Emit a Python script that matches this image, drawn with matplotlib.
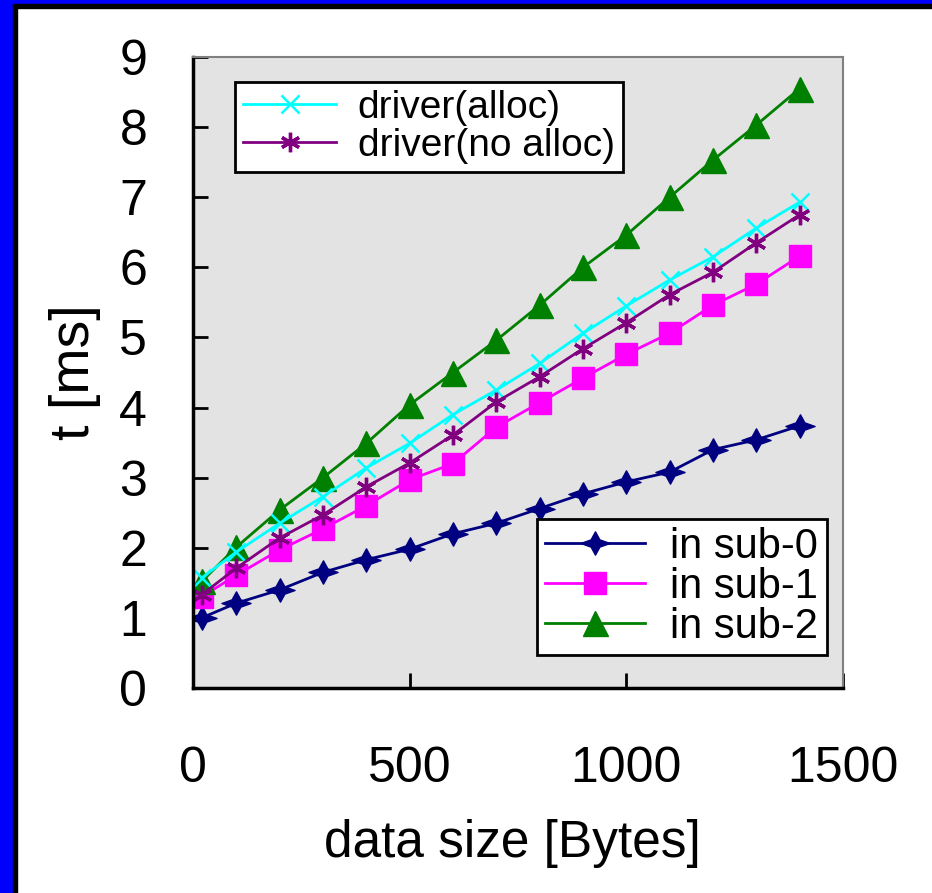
import matplotlib
matplotlib.use("Agg")
from matplotlib import pyplot as plt
from matplotlib.patches import Rectangle
from matplotlib.path import Path

plt.rcParams['font.family'] = ['Liberation Sans', 'DejaVu Sans']

# datos
tamanos = [20, 100, 200, 300, 400, 500, 600, 700, 800, 900, 1000, 1100, 1200, 1300, 1400]
sub0 = [1.0, 1.21, 1.40, 1.65, 1.83, 1.98, 2.2, 2.35, 2.56, 2.77, 2.94, 3.08, 3.40, 3.54, 3.74]
sub1 = [1.3, 1.61, 1.97, 2.27, 2.6, 2.97, 3.2, 3.72, 4.07, 4.42, 4.76, 5.06, 5.46, 5.76, 6.16]
sub2 = [1.52, 2.01, 2.54, 3.0, 3.49, 4.04, 4.5, 4.96, 5.46, 6.0, 6.46, 7.0, 7.53, 8.03, 8.55]
driver_alloc = [1.57, 1.94, 2.35, 2.73, 3.14, 3.49, 3.9, 4.25, 4.63, 5.06, 5.45, 5.82, 6.15, 6.56, 6.93]
driver_noalloc = [1.33, 1.71, 2.14, 2.47, 2.87, 3.21, 3.61, 4.08, 4.44, 4.84, 5.21, 5.61, 5.93, 6.35, 6.75]

xticks = [0, 500, 1000, 1500]
yticks = [0, 1, 2, 3, 4, 5, 6, 7, 8, 9]

fig = plt.figure(figsize=(9.32, 8.93), dpi=100)

# marco azul y negro a la izquierda y arriba
fig.patches.append(Rectangle((0, 0), 13/932, 1, transform=fig.transFigure, color='#0000ff', zorder=0))
fig.patches.append(Rectangle((13/932, 0), 4/932, 1 - 4/893, transform=fig.transFigure, color='black', zorder=0))
fig.patches.append(Rectangle((0, 1 - 4/893), 1, 4/893, transform=fig.transFigure, color='#0000ff', zorder=0))
fig.patches.append(Rectangle((13/932, 1 - 8/893), 1, 4/893, transform=fig.transFigure, color='black', zorder=0))

ax = fig.add_axes([193/932, 1 - 688/893, 650/932, 631/893])
ax.set_facecolor('#e3e3e3')

diamante = Path([(-1, 0), (-0.3, 0.25), (0, 0.8), (0.3, 0.25), (1, 0), (0.3, -0.25), (0, -0.8), (-0.3, -0.25), (-1, 0)],
                [Path.MOVETO] + [Path.LINETO] * 7 + [Path.CLOSEPOLY])

l0, = ax.plot(tamanos, sub0, color='#000080', lw=2, marker=diamante, ms=21, label='in sub-0')
l1, = ax.plot(tamanos, sub1, color='#ff00ff', lw=2, marker='s', ms=15.5, label='in sub-1')
l2, = ax.plot(tamanos, sub2, color='#008000', lw=2, marker='^', ms=18, label='in sub-2')
l3, = ax.plot(tamanos, driver_alloc, color='#00ffff', lw=2, marker='x', ms=13, mew=1.8, label='driver(alloc)')
l4, = ax.plot(tamanos, driver_noalloc, color='#800080', lw=2, marker=(6, 2, 0), ms=14, mew=2.4, label='driver(no alloc)')

ax.set_xlim(0, 1500)
ax.set_ylim(0, 9)
ax.set_xticks(xticks)
ax.set_yticks(yticks)
ax.tick_params(axis='both', direction='in', length=11, width=2, labelsize=36)
ax.tick_params(axis='y', pad=33)
ax.tick_params(axis='x', pad=42)
ax.tick_params(top=False, right=False)

ax.spines['left'].set_linewidth(2.5)
ax.spines['bottom'].set_linewidth(2.5)
ax.spines['top'].set_color('#808080')
ax.spines['right'].set_color('#808080')
ax.spines['top'].set_linewidth(1.5)
ax.spines['right'].set_linewidth(1.5)

fig.text(75/932, 1 - 372/893, 't [ms]', rotation=90, fontsize=40, ha='center', va='center')
fig.text(512/932, 1 - 843/893, 'data size [Bytes]', fontsize=37, ha='center', va='center')

ley1 = ax.legend(handles=[l3, l4], loc='upper left', bbox_to_anchor=(0.065, 0.96), borderaxespad=0,
                 fontsize=28, handlelength=2.4, handletextpad=0.55, labelspacing=0.05,
                 fancybox=False, framealpha=1, edgecolor='black', borderpad=0.2)
ley1.get_frame().set_linewidth(2)
ax.add_artist(ley1)
ley2 = ax.legend(handles=[l0, l1, l2], loc='lower right', bbox_to_anchor=(0.975, 0.052), borderaxespad=0,
                 fontsize=30, handlelength=2.4, handletextpad=0.6, labelspacing=0.0,
                 fancybox=False, framealpha=1, edgecolor='black', borderpad=0.2)
ley2.get_frame().set_linewidth(2)

plt.savefig('out.png', dpi=100)
